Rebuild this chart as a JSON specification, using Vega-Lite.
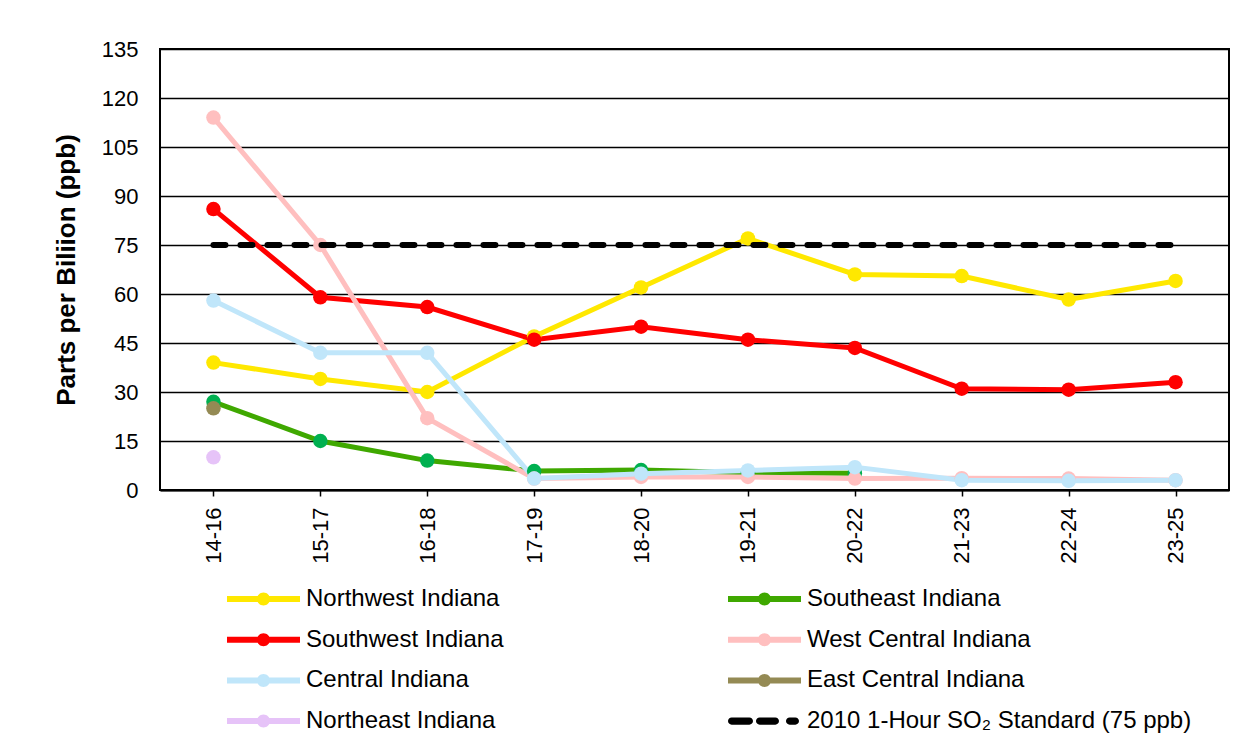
{
  "$schema": "https://vega.github.io/schema/vega-lite/v6.json",
  "width": 1069,
  "height": 441,
  "autosize": {"type": "none"},
  "padding": {"left": 160, "top": 49, "right": 26, "bottom": 258},
  "background": "white",
  "config": {
    "font": "Liberation Sans",
    "view": {"stroke": "black", "strokeWidth": 2}
  },
  "data": {
    "values": [
      {"period": "14-16", "region": "Northwest Indiana", "ppb": 39},
      {"period": "15-17", "region": "Northwest Indiana", "ppb": 34},
      {"period": "16-18", "region": "Northwest Indiana", "ppb": 30},
      {"period": "17-19", "region": "Northwest Indiana", "ppb": 47},
      {"period": "18-20", "region": "Northwest Indiana", "ppb": 62},
      {"period": "19-21", "region": "Northwest Indiana", "ppb": 77},
      {"period": "20-22", "region": "Northwest Indiana", "ppb": 66},
      {"period": "21-23", "region": "Northwest Indiana", "ppb": 65.5},
      {"period": "22-24", "region": "Northwest Indiana", "ppb": 58.3},
      {"period": "23-25", "region": "Northwest Indiana", "ppb": 64},
      {"period": "14-16", "region": "Southeast Indiana", "ppb": 27},
      {"period": "15-17", "region": "Southeast Indiana", "ppb": 15},
      {"period": "16-18", "region": "Southeast Indiana", "ppb": 9},
      {"period": "17-19", "region": "Southeast Indiana", "ppb": 5.8},
      {"period": "18-20", "region": "Southeast Indiana", "ppb": 6.1},
      {"period": "19-21", "region": "Southeast Indiana", "ppb": 5.3},
      {"period": "20-22", "region": "Southeast Indiana", "ppb": 5.1},
      {"period": "14-16", "region": "Southwest Indiana", "ppb": 86},
      {"period": "15-17", "region": "Southwest Indiana", "ppb": 59},
      {"period": "16-18", "region": "Southwest Indiana", "ppb": 56},
      {"period": "17-19", "region": "Southwest Indiana", "ppb": 46},
      {"period": "18-20", "region": "Southwest Indiana", "ppb": 50},
      {"period": "19-21", "region": "Southwest Indiana", "ppb": 46},
      {"period": "20-22", "region": "Southwest Indiana", "ppb": 43.5},
      {"period": "21-23", "region": "Southwest Indiana", "ppb": 31},
      {"period": "22-24", "region": "Southwest Indiana", "ppb": 30.7},
      {"period": "23-25", "region": "Southwest Indiana", "ppb": 33},
      {"period": "14-16", "region": "West Central Indiana", "ppb": 114},
      {"period": "15-17", "region": "West Central Indiana", "ppb": 75},
      {"period": "16-18", "region": "West Central Indiana", "ppb": 22},
      {"period": "17-19", "region": "West Central Indiana", "ppb": 3.5},
      {"period": "18-20", "region": "West Central Indiana", "ppb": 4},
      {"period": "19-21", "region": "West Central Indiana", "ppb": 4},
      {"period": "20-22", "region": "West Central Indiana", "ppb": 3.5},
      {"period": "21-23", "region": "West Central Indiana", "ppb": 3.6},
      {"period": "22-24", "region": "West Central Indiana", "ppb": 3.5},
      {"period": "23-25", "region": "West Central Indiana", "ppb": 3},
      {"period": "14-16", "region": "Central Indiana", "ppb": 58},
      {"period": "15-17", "region": "Central Indiana", "ppb": 42},
      {"period": "16-18", "region": "Central Indiana", "ppb": 42},
      {"period": "17-19", "region": "Central Indiana", "ppb": 3.5},
      {"period": "18-20", "region": "Central Indiana", "ppb": 5},
      {"period": "19-21", "region": "Central Indiana", "ppb": 6},
      {"period": "20-22", "region": "Central Indiana", "ppb": 7},
      {"period": "21-23", "region": "Central Indiana", "ppb": 3},
      {"period": "22-24", "region": "Central Indiana", "ppb": 2.8},
      {"period": "23-25", "region": "Central Indiana", "ppb": 3},
      {"period": "14-16", "region": "East Central Indiana", "ppb": 25},
      {"period": "14-16", "region": "Northeast Indiana", "ppb": 10},
      {"period": "14-16", "region": "2010 1-Hour SO₂ Standard (75 ppb)", "ppb": 75},
      {"period": "15-17", "region": "2010 1-Hour SO₂ Standard (75 ppb)", "ppb": 75},
      {"period": "16-18", "region": "2010 1-Hour SO₂ Standard (75 ppb)", "ppb": 75},
      {"period": "17-19", "region": "2010 1-Hour SO₂ Standard (75 ppb)", "ppb": 75},
      {"period": "18-20", "region": "2010 1-Hour SO₂ Standard (75 ppb)", "ppb": 75},
      {"period": "19-21", "region": "2010 1-Hour SO₂ Standard (75 ppb)", "ppb": 75},
      {"period": "20-22", "region": "2010 1-Hour SO₂ Standard (75 ppb)", "ppb": 75},
      {"period": "21-23", "region": "2010 1-Hour SO₂ Standard (75 ppb)", "ppb": 75},
      {"period": "22-24", "region": "2010 1-Hour SO₂ Standard (75 ppb)", "ppb": 75},
      {"period": "23-25", "region": "2010 1-Hour SO₂ Standard (75 ppb)", "ppb": 75}
    ]
  },
  "encoding": {
    "x": {
      "field": "period",
      "type": "ordinal",
      "sort": ["14-16", "15-17", "16-18", "17-19", "18-20", "19-21", "20-22", "21-23", "22-24", "23-25"],
      "scale": {"type": "point", "padding": 0.5},
      "axis": {
        "title": null,
        "labelAngle": -90,
        "labelFontSize": 22,
        "labelColor": "black",
        "labelPadding": 11,
        "tickColor": "black",
        "tickSize": 6,
        "tickWidth": 1.5,
        "domainColor": "black",
        "domainWidth": 2,
        "grid": false
      }
    },
    "y": {
      "field": "ppb",
      "type": "quantitative",
      "scale": {"domain": [0, 135], "nice": false},
      "axis": {
        "title": "Parts per Biliion (ppb)",
        "titleFontSize": 26,
        "titleFontWeight": "bold",
        "titleColor": "black",
        "titlePadding": 22,
        "values": [0, 15, 30, 45, 60, 75, 90, 105, 120, 135],
        "labelFontSize": 22,
        "labelColor": "black",
        "labelPadding": 22,
        "ticks": false,
        "domain": false,
        "grid": true,
        "gridColor": "black",
        "gridWidth": 1.5,
        "gridOpacity": 1
      }
    },
    "color": {
      "field": "region",
      "type": "nominal",
      "scale": {
        "domain": ["Northwest Indiana", "Southwest Indiana", "Central Indiana", "Northeast Indiana", "Southeast Indiana", "West Central Indiana", "East Central Indiana", "2010 1-Hour SO₂ Standard (75 ppb)"],
        "range": ["#FFE800", "#FF0000", "#C0E6FA", "#E6C3F8", "#3FA800", "#FFBFBF", "#948A54", "#000000"]
      },
      "legend": {
        "title": null,
        "orient": "none",
        "legendX": 67,
        "legendY": 538,
        "columns": 2,
        "padding": 0,
        "labelFontSize": 24,
        "labelColor": "black",
        "labelLimit": 600,
        "labelOffset": 6,
        "symbolSize": 5329,
        "symbolStrokeWidth": 0,
        "symbolOffset": 0,
        "clipHeight": 24,
        "rowPadding": 16.7,
        "columnPadding": 224,
        "encode": {
          "symbols": {
            "update": {
              "shape": [
                {"test": "datum.value === '2010 1-Hour SO₂ Standard (75 ppb)'", "value": "M-0.9,-0.1L-0.415,-0.1A0.1,0.1 0 0,1 -0.415,0.1L-0.9,0.1A0.1,0.1 0 0,1 -0.9,-0.1Z M-0.133,-0.1L0.297,-0.1A0.1,0.1 0 0,1 0.297,0.1L-0.133,0.1A0.1,0.1 0 0,1 -0.133,-0.1Z M0.689,-0.1L0.845,-0.1A0.1,0.1 0 0,1 0.845,0.1L0.689,0.1A0.1,0.1 0 0,1 0.689,-0.1Z"},
                {"value": "M-1,-0.082L1,-0.082L1,0.082L-1,0.082Z M-0.178,0A0.178,0.178 0 1,1 0.178,0A0.178,0.178 0 1,1 -0.178,0Z"}
              ],
              "fill": {"scale": "color", "field": "value"},
              "stroke": {"value": "transparent"},
              "strokeWidth": {"value": 0},
              "opacity": {"value": 1}
            }
          }
        }
      }
    }
  },
  "layer": [
    {
      "transform": [{"filter": "datum.region !== '2010 1-Hour SO₂ Standard (75 ppb)'"}],
      "mark": {"type": "line", "strokeWidth": 5}
    },
    {
      "transform": [{"filter": "datum.region !== '2010 1-Hour SO₂ Standard (75 ppb)'"}],
      "mark": {"type": "point", "filled": true, "size": 210, "opacity": 1},
      "encoding": {
        "color": {
          "condition": {"test": "datum.region === 'Southeast Indiana'", "value": "#00B050"},
          "field": "region",
          "type": "nominal"
        }
      }
    },
    {
      "transform": [{"filter": "datum.region === '2010 1-Hour SO₂ Standard (75 ppb)'"}],
      "mark": {"type": "line", "strokeWidth": 6, "strokeDash": [12, 15], "strokeCap": "round"}
    }
  ]
}
